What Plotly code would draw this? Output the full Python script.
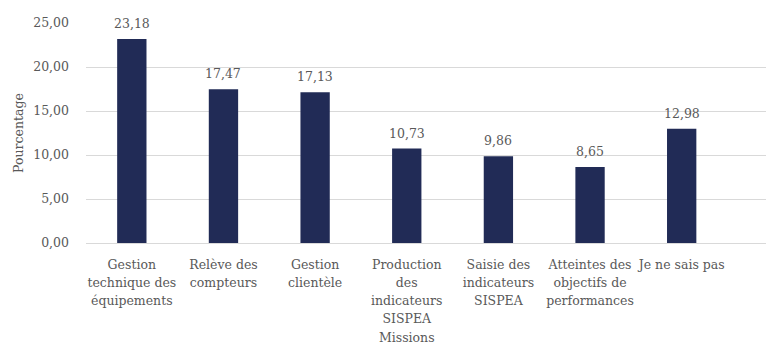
import plotly.graph_objects as go

category_lines = [
    ["Gestion", "technique des", "équipements"],
    ["Relève des", "compteurs"],
    ["Gestion", "clientèle"],
    ["Production", "des", "indicateurs", "SISPEA", "Missions"],
    ["Saisie des", "indicateurs", "SISPEA"],
    ["Atteintes des", "objectifs de", "performances"],
    ["Je ne sais pas"],
]
values = [23.18, 17.47, 17.13, 10.73, 9.86, 8.65, 12.98]
labels = [f"{v:.2f}".replace(".", ",") for v in values]
y_ticks = [0, 5, 10, 15, 20, 25]

FONT = "DejaVu Serif"
GREY = "#595959"
FS = 12.5

ticktext = ["<br>".join(f"<span style='font-size:{FS}px'>{l}</span>" for l in lines)
            for lines in category_lines]
xs = list(range(len(category_lines)))

fig = go.Figure()
fig.add_trace(go.Bar(
    x=xs,
    y=values,
    marker=dict(color="#212b56", line=dict(width=0)),
    width=0.32,
    hoverinfo="skip",
))

annotations = [
    dict(x=x, y=v, text=t, showarrow=False, yanchor="bottom", xanchor="center",
         yshift=6, font=dict(family=FONT, size=FS, color=GREY))
    for x, v, t in zip(xs, values, labels)
]

fig.update_layout(
    width=766, height=345,
    margin=dict(l=86, r=0, t=23, b=102),
    paper_bgcolor="white", plot_bgcolor="white",
    separators=", ",
    showlegend=False,
    font=dict(family=FONT, size=FS, color=GREY),
    annotations=annotations,
)
fig.update_xaxes(
    tickmode="array",
    tickvals=xs,
    ticktext=ticktext,
    range=[-0.5, 6.92],
    showgrid=False,
    showline=True, linecolor="#d9d9d9", linewidth=1,
    ticks="",
    tickfont=dict(family=FONT, size=14, color=GREY),
    ticklabelstandoff=8,
    tickangle=0,
)
fig.update_yaxes(
    range=[0, 25],
    tickvals=y_ticks,
    tickformat=".2f",
    showgrid=True, gridcolor="#d9d9d9", gridwidth=1,
    zeroline=False,
    ticks="",
    tickfont=dict(family=FONT, size=FS, color=GREY),
    ticklabelstandoff=16,
    title=dict(text="Pourcentage", font=dict(family=FONT, size=FS, color=GREY), standoff=6),
)

fig.write_html("out.html")
